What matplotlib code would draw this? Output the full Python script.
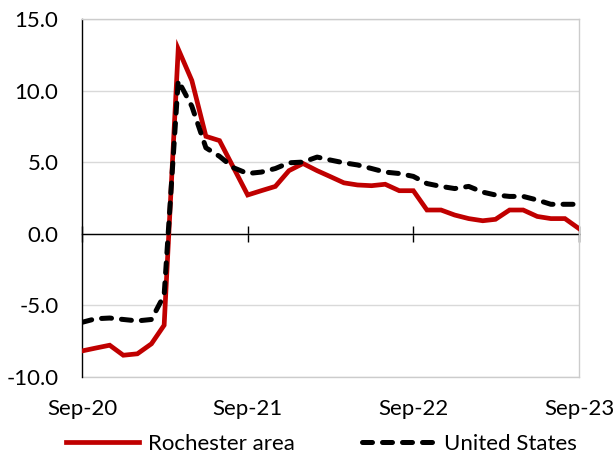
import matplotlib
matplotlib.use("Agg")
import matplotlib.pyplot as plt
import pandas as pd

dates = pd.date_range("2020-09-01", "2023-09-01", freq="MS")
rochester = [-8.2, -8.0, -7.8, -8.5, -8.4, -7.7, -6.4, 12.9, 10.7, 6.8, 6.5, 4.6,
             2.7, 3.0, 3.3, 4.4, 4.9, 4.4, 4.0, 3.55, 3.4, 3.35, 3.45, 3.0,
             3.0, 1.65, 1.65, 1.3, 1.05, 0.9, 1.0, 1.65, 1.65, 1.2, 1.05, 1.05, 0.35]
united_states = [-6.2, -5.95, -5.9, -6.0, -6.1, -6.0, -4.3, 10.7, 8.9, 6.0, 5.4, 4.6,
                 4.2, 4.3, 4.55, 4.95, 5.0, 5.35, 5.15, 4.95, 4.8, 4.55, 4.3, 4.2,
                 4.0, 3.5, 3.3, 3.15, 3.3, 2.9, 2.7, 2.6, 2.6, 2.35, 2.05, 2.05, 2.05]
xtick_dates = pd.to_datetime(["2020-09-01", "2021-09-01", "2022-09-01", "2023-09-01"])
xtick_labels = ["Sep-20", "Sep-21", "Sep-22", "Sep-23"]
yticks = [-10, -5, 0, 5, 10, 15]

plt.rcParams['font.family'] = ['Lato', 'DejaVu Sans']
fs = 16

fig = plt.figure(figsize=(6.16, 4.55), dpi=100)
ax = fig.add_axes([82/616, 1-376.7/455, (579-82)/616, (376.7-19)/455])

ax.plot(dates, rochester, color="#C00000", lw=3.4, solid_joinstyle='miter', label="Rochester area", zorder=3)
ax.plot(dates, united_states, color="black", lw=3.6, dashes=(2.0, 2.0),
        dash_capstyle='round', label="United States", zorder=4)

ax.set_xlim(dates[0], dates[-1])
ax.set_ylim(-10, 15)
ax.set_yticks(yticks)
ax.set_yticklabels([f"{v:.1f}" for v in yticks], fontsize=fs)
ax.tick_params(axis='y', length=0, pad=17)
ax.yaxis.grid(True, color="#d9d9d9", lw=1.0)
ax.set_axisbelow(True)

for s in ['top', 'right']:
    ax.spines[s].set_color("#cccccc")
    ax.spines[s].set_linewidth(1.0)
ax.spines['left'].set_color("black")
ax.spines['left'].set_linewidth(1.0)

ax.spines['bottom'].set_position(('data', 0))
ax.spines['bottom'].set_color("black")
ax.spines['bottom'].set_linewidth(1.0)
ax.spines['bottom'].set_zorder(2)
ax.set_xticks(xtick_dates)
ax.tick_params(axis='x', direction='inout', length=12, width=1.0, labelbottom=False)

sec = ax.secondary_xaxis(0)
sec.set_xticks(xtick_dates)
sec.set_xticklabels(xtick_labels, fontsize=fs)
sec.tick_params(axis='x', length=0, pad=16)
sec.spines['bottom'].set_color("#cccccc")
sec.spines['bottom'].set_linewidth(1.0)

fig.legend(loc='center', bbox_to_anchor=(0.522, 1-444/455), ncol=2, frameon=False,
           fontsize=fs, handlelength=3.3, handletextpad=0.4, columnspacing=3.0,
           borderpad=0, borderaxespad=0)

fig.savefig("out.png", dpi=100)
